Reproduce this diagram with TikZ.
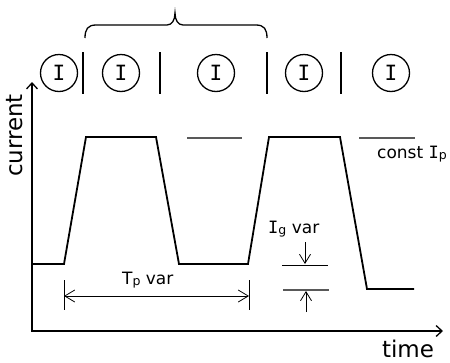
\documentclass[tikz,border=0pt]{standalone}
\usepackage{fontspec}
\setmainfont{DejaVu Sans}
\newfontfamily\serifI{DejaVu Sans Mono}
\usetikzlibrary{arrows.meta}
\newcommand{\capI}{{\serifI I}}
\newcommand{\lowsub}[1]{\raisebox{-0.1em}{\fontsize{12.5}{12.5}\selectfont #1}}
\definecolor{guidegray}{gray}{0.35}
\begin{document}
\begin{tikzpicture}[x=1pt,y=-1pt,
  circ/.style={circle,draw,line width=1.3pt,minimum size=37pt,inner sep=0pt,font=\serifI\fontsize{21}{21}\selectfont},
  sepbar/.style={line width=1.8pt},
  sig/.style={line width=1.8pt,line join=miter},
  axis/.style={line width=1.7pt,{Straight Barb[length=6pt,width=11pt,line width=1.3pt]}-{Straight Barb[length=6pt,width=11pt,line width=1.3pt]}},
  dim/.style={line width=0.8pt},
  dimarrow/.style={line width=0.8pt,-{Straight Barb[length=9pt,width=11pt,line width=0.8pt]}},
  dimboth/.style={line width=0.8pt,{Straight Barb[length=10pt,width=12pt,line width=0.8pt]}-{Straight Barb[length=10pt,width=12pt,line width=0.8pt]}},
  lbl/.style={font=\fontsize{17}{17}\selectfont,inner sep=0pt},
  big/.style={font=\fontsize{23}{23}\selectfont,inner sep=0pt},
  guide/.style={guidegray,line width=1.1pt}]
\useasboundingbox (0,0) rectangle (450,362);

% brace
\draw[line width=1.3pt] (85,38) .. controls (85,29) and (88,25) .. (96,25) -- (167,25)
  .. controls (172,25) and (175,20) .. (175,13) .. controls (175,20) and (178,25) .. (183,25)
  -- (256,25) .. controls (264,25) and (267,29) .. (267,38);

% circles with I
\node[circ] (c1) at (59,73) {I};
\node[circ] (c2) at (121,73) {I};
\node[circ] (c3) at (216,73) {I};
\node[circ] (c4) at (304,73) {I};
\node[circ] (c5) at (391,73) {I};

% separator bars
\draw[sepbar] (83,52) -- (83,94);
\draw[sepbar] (160,52) -- (160,94);
\draw[sepbar] (267,52) -- (267,94);
\draw[sepbar] (341,52) -- (341,94);

% axes
\coordinate (ytop) at (32,82);
\coordinate (orig) at (32,331);
\coordinate (xend) at (443,331);
\draw[axis] (ytop) -- (orig) -- (xend);
\node[big,rotate=90,anchor=base] (cur) at (23,135.5) {current};
\node[big,anchor=base] (time) at (408,357) {time};

% signal
\draw[sig] (32,264) -- (64,264) -- (86,137) -- (156,137) -- (179,264) -- (248,264)
  -- (269,137) -- (340,137) -- (367,289) -- (414,289);

% guides for const Ip
\draw[guide] (187,138) -- (242,138);
\draw[guide] (359,138) -- (415,138);
\node[lbl,anchor=base west] (ip) at (377,158) {const \capI\lowsub{p}};

% Tp dimension
\coordinate (tpa) at (64,296);
\coordinate (tpb) at (249,296);
\draw[dim] (64,280) -- (64,310);
\draw[dim] (249,280) -- (249,310);
\draw[dimboth] (tpa) -- (tpb);
\node[lbl,anchor=base west] (tp) at (122,284) {T\lowsub{p} var};

% Ig dimension
\draw[dim] (282,265) -- (328,265);
\draw[guide] (283,290) -- (329,290);
\coordinate (iga) at (305,242);
\coordinate (igb) at (305,264);
\coordinate (igc) at (306,312);
\coordinate (igd) at (306,291);
\draw[dimarrow] (iga) -- (igb);
\draw[dimarrow] (igc) -- (igd);
\node[lbl,anchor=base west] (ig) at (268,233) {\capI\lowsub{g} var};
\end{tikzpicture}
\end{document}
